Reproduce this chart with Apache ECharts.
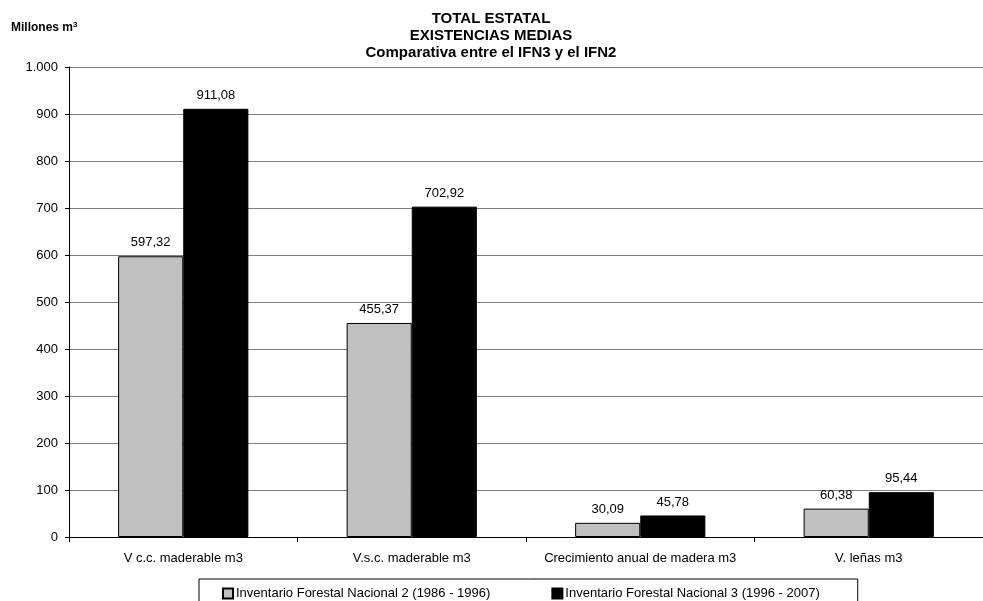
<!DOCTYPE html>
<html><head><meta charset="utf-8">
<script src="https://cdn.jsdelivr.net/npm/echarts@6/dist/echarts.min.js"></script>
<style>html,body{margin:0;padding:0;background:#fff}#c{width:983px;height:601px}</style>
</head><body><div id="c"></div>
<script>
const categories = ['V c.c. maderable m3', 'V.s.c. maderable m3', 'Crecimiento anual de madera m3', 'V. leñas m3'];
const ifn2 = [597.32, 455.37, 30.09, 60.38];
const ifn3 = [911.08, 702.92, 45.78, 95.44];
const seriesNames = ['Inventario Forestal Nacional 2 (1986 - 1996)', 'Inventario Forestal Nacional 3 (1996 - 2007)'];
const titleLines = ['TOTAL ESTATAL', 'EXISTENCIAS MEDIAS', 'Comparativa entre el IFN3 y el IFN2'];

const FONT = 'Liberation Sans, Arial, sans-serif';
const fmtVal = v => v.toFixed(2).replace('.', ',');
const fmtAxis = v => v >= 1000 ? Math.floor(v / 1000) + '.' + String(v % 1000).padStart(3, '0') : String(v);

const chart = echarts.init(document.getElementById('c'), null, {renderer: 'canvas'});
chart.setOption({
  animation: false,
  backgroundColor: '#fff',
  textStyle: {fontFamily: FONT, color: '#000'},
  title: {
    text: titleLines.join('\n'),
    left: 491, top: 10, textAlign: 'center', padding: 0,
    textStyle: {fontFamily: FONT, fontSize: 15, fontWeight: 'bold', lineHeight: 17, color: '#000'}
  },
  graphic: [{
    type: 'text', left: 11, top: 21,
    style: {
      text: '{a|Millones m}{s|3}',
      rich: {
        a: {fontFamily: FONT, fontSize: 12, fontWeight: 'bold', fill: '#000'},
        s: {fontFamily: FONT, fontSize: 8, fontWeight: 'bold', fill: '#000', verticalAlign: 'top', padding: [0, 0, 6, 0]}
      }
    }
  }],
  legend: {
    left: 199, top: 579,
    data: seriesNames,
    itemWidth: 10, itemHeight: 10, itemGap: 61,
    padding: [8, 38, 8, 23],
    borderColor: '#000', borderWidth: 1,
    icon: 'rect',
    textStyle: {fontFamily: FONT, fontSize: 13, color: '#000', padding: [0, 0, 0, -2]}
  },
  grid: {left: 69, top: 67, width: 924, height: 470},
  xAxis: {
    type: 'category', data: categories,
    axisLine: {lineStyle: {color: '#000', width: 1}},
    axisTick: {show: true, interval: 0, length: 5, lineStyle: {color: '#000'}},
    axisLabel: {interval: 0, fontFamily: FONT, fontSize: 13, color: '#000', margin: 15}
  },
  yAxis: {
    type: 'value', min: 0, max: 1000, interval: 100,
    axisLine: {show: true, lineStyle: {color: '#000', width: 1}},
    axisTick: {show: true, length: 4, lineStyle: {color: '#000'}},
    splitLine: {lineStyle: {color: '#808080', width: 1}},
    axisLabel: {fontFamily: FONT, fontSize: 13, color: '#000', margin: 11, formatter: fmtAxis}
  },
  series: [
    {
      name: seriesNames[0], type: 'bar', data: ifn2,
      barGap: '0%', barCategoryGap: '43%',
      itemStyle: {color: '#C0C0C0', borderColor: '#000', borderWidth: 1},
      label: {show: true, position: 'top', distance: 7, fontFamily: FONT, fontSize: 13, color: '#000', formatter: p => fmtVal(p.value)}
    },
    {
      name: seriesNames[1], type: 'bar', data: ifn3,
      itemStyle: {color: '#000', borderColor: '#000', borderWidth: 1},
      label: {show: true, position: 'top', distance: 7, fontFamily: FONT, fontSize: 13, color: '#000', formatter: p => fmtVal(p.value)}
    }
  ]
});
</script></body></html>
